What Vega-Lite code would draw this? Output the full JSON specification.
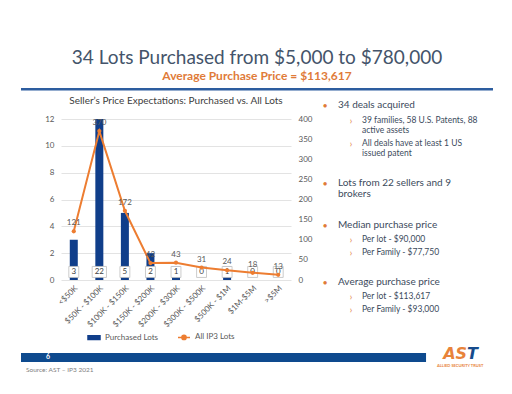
{
  "$schema": "https://vega.github.io/schema/vega-lite/v6.json",
  "padding": {"left": 20, "right": 20, "top": 49, "bottom": 0},
  "background": "white",
  "config": {"font": "Lato", "view": {"stroke": null}},
  "title": {
    "text": "34 Lots Purchased from $5,000 to $780,000",
    "subtitle": "Average Purchase Price = $113,617",
    "anchor": "middle",
    "font": "Lato",
    "fontSize": 19,
    "fontWeight": "normal",
    "color": "#44546a",
    "subtitleFont": "Lato",
    "subtitleFontSize": 12,
    "subtitleFontWeight": "bold",
    "subtitleColor": "#e07b39",
    "subtitlePadding": 3,
    "offset": 6
  },
  "spacing": 3,
  "resolve": {"legend": {"color": "independent"}, "scale": {"color": "independent"}},
  "vconcat": [
    {
      "width": 432,
      "height": 5,
      "data": {"values": [{}]},
      "mark": {"type": "rect", "color": "#2d5d9f", "clip": false},
      "encoding": {
        "x": {"datum": -0.0926, "type": "quantitative", "scale": {"domain": [0, 1]}, "axis": null},
        "x2": {"datum": 1},
        "y": {"datum": 1, "type": "quantitative", "scale": {"domain": [0, 1]}, "axis": null},
        "y2": {"datum": 0.5}
      }
    },
    {
      "spacing": 8,
      "resolve": {"legend": {"color": "independent"}, "scale": {"color": "independent"}},
      "hconcat": [
        {
          "width": 230,
          "height": 161,
          "title": {
            "text": "Seller’s Price Expectations: Purchased vs. All Lots",
            "fontSize": 10,
            "fontWeight": "normal",
            "color": "#404040",
            "offset": 9
          },
          "data": {
            "values": [
              {"range": "<$50K", "purchased": 3, "all": 121},
              {"range": "$50K - $100K", "purchased": 22, "all": 370},
              {"range": "$100K - $150K", "purchased": 5, "all": 172},
              {"range": "$150K - $200K", "purchased": 2, "all": 42},
              {"range": "$200K - $300K", "purchased": 1, "all": 43},
              {"range": "$300K - $500K", "purchased": 0, "all": 31},
              {"range": "$500K - $1M", "purchased": 1, "all": 24},
              {"range": "$1M-$5M", "purchased": 0, "all": 18},
              {"range": ">$5M", "purchased": 0, "all": 13}
            ]
          },
          "encoding": {
            "x": {
              "field": "range",
              "type": "nominal",
              "sort": null,
              "scale": {"paddingInner": 0, "paddingOuter": 0},
              "axis": {
                "labelAngle": -45,
                "labelFontSize": 8,
                "labelColor": "#595959",
                "ticks": false,
                "domain": false,
                "title": null,
                "labelPadding": 4
              }
            }
          },
          "layer": [
            {
              "layer": [
                {
                  "mark": {"type": "bar", "width": 8, "clip": true, "color": "#103e8a"},
                  "encoding": {
                    "y": {
                      "field": "purchased",
                      "type": "quantitative",
                      "scale": {"domain": [0, 12], "nice": false},
                      "axis": {
                        "orient": "left",
                        "values": [0, 2, 4, 6, 8, 10, 12],
                        "grid": true,
                        "gridColor": "#e3e3e3",
                        "domain": false,
                        "ticks": false,
                        "labelFontSize": 8,
                        "labelColor": "#595959",
                        "labelPadding": 7,
                        "title": null,
                        "minExtent": 40
                      }
                    },
                    "color": {
                      "datum": "Purchased Lots",
                      "type": "nominal",
                      "scale": {"domain": ["Purchased Lots", "All IP3 Lots"], "range": ["#103e8a", "#ed7d31"]},
                      "legend": {
                        "orient": "none",
                        "legendX": 26,
                        "legendY": 211,
                        "direction": "horizontal",
                        "title": null,
                        "labelFontSize": 8,
                        "labelColor": "#595959",
                        "symbolSize": 144,
                        "columnPadding": 16,
                        "encode": {
                          "symbols": {
                            "update": {
                              "shape": {"signal": "datum.value === 'Purchased Lots' ? 'M-1,-0.3H1V0.3H-1Z' : 'M-1,0H1M0.35,0A0.35,0.35 0 1 1 -0.35,0A0.35,0.35 0 1 1 0.35,0'"},
                              "stroke": {"signal": "datum.value === 'Purchased Lots' ? 'transparent' : '#ed7d31'"},
                              "strokeWidth": {"value": 1.5},
                              "fill": {"signal": "datum.value === 'Purchased Lots' ? '#103e8a' : '#ed7d31'"}
                            }
                          }
                        }
                      }
                    }
                  }
                },
                {
                  "mark": {"type": "point", "filled": true, "fill": "white", "stroke": "#bfbfbf", "strokeWidth": 0.8, "opacity": 1, "size": 121},
                  "encoding": {
                    "y": {
                      "datum": 0.6,
                      "type": "quantitative",
                      "axis": {
                        "orient": "left",
                        "values": [0, 2, 4, 6, 8, 10, 12],
                        "grid": true,
                        "gridColor": "#e3e3e3",
                        "domain": false,
                        "ticks": false,
                        "labelFontSize": 8,
                        "labelColor": "#595959",
                        "labelPadding": 7,
                        "title": null,
                        "minExtent": 40
                      }
                    },
                    "shape": {
                      "condition": {"test": "datum.purchased >= 10", "value": "M-1.3,-1H1.3V1H-1.3Z"},
                      "value": "M-0.9,-1H0.9V1H-0.9Z"
                    }
                  }
                },
                {
                  "mark": {"type": "text", "fontSize": 8, "color": "#404040"},
                  "encoding": {
                    "y": {
                      "datum": 0.6,
                      "type": "quantitative",
                      "axis": {
                        "orient": "left",
                        "values": [0, 2, 4, 6, 8, 10, 12],
                        "grid": true,
                        "gridColor": "#e3e3e3",
                        "domain": false,
                        "ticks": false,
                        "labelFontSize": 8,
                        "labelColor": "#595959",
                        "labelPadding": 7,
                        "title": null,
                        "minExtent": 40
                      }
                    },
                    "text": {"field": "purchased"}
                  }
                }
              ]
            },
            {
              "encoding": {
                "y": {
                  "field": "all",
                  "type": "quantitative",
                  "scale": {"domain": [0, 400], "nice": false},
                  "axis": {
                    "orient": "right",
                    "values": [0, 50, 100, 150, 200, 250, 300, 350, 400],
                    "grid": false,
                    "domain": false,
                    "ticks": false,
                    "labelFontSize": 8,
                    "labelColor": "#595959",
                    "labelPadding": 7,
                    "title": null
                  }
                }
              },
              "layer": [
                {
                  "mark": {"type": "line", "strokeWidth": 2},
                  "encoding": {"color": {"datum": "All IP3 Lots", "type": "nominal"}}
                },
                {
                  "mark": {"type": "point", "filled": true, "size": 18, "color": "#ed7d31", "opacity": 1}
                },
                {
                  "mark": {"type": "text", "dy": -8, "fontSize": 8, "color": "#595959"},
                  "encoding": {"text": {"field": "all"}}
                }
              ]
            }
          ],
          "resolve": {"scale": {"y": "independent"}}
        },
        {
          "width": 172,
          "height": 200,
          "data": {
            "values": [
              {"text": "34 deals acquired", "level": 1, "line": 0},
              {"text": "39 families, 58 U.S. Patents, 88\nactive assets", "level": 2, "line": 1.1},
              {"text": "All deals have at least 1 US\nissued patent", "level": 2, "line": 2.8},
              {"text": "Lots from 22 sellers and 9\nbrokers", "level": 1, "line": 5.77},
              {"text": "Median purchase price", "level": 1, "line": 8.87},
              {"text": "Per lot - $90,000", "level": 2, "line": 9.9},
              {"text": "Per Family - $77,750", "level": 2, "line": 10.87},
              {"text": "Average purchase price", "level": 1, "line": 13.08},
              {"text": "Per lot - $113,617", "level": 2, "line": 14.1},
              {"text": "Per Family - $93,000", "level": 2, "line": 15.08}
            ]
          },
          "encoding": {
            "x": {"field": "level", "type": "quantitative", "scale": {"domain": [0.808, 7.423]}, "axis": null},
            "y": {"field": "line", "type": "quantitative", "scale": {"domain": [0.96, 15.74], "reverse": true}, "axis": null}
          },
          "layer": [
            {
              "mark": {"type": "text", "align": "center", "baseline": "middle", "fontSize": 9, "color": "#e07b39"},
              "encoding": {
                "text": {"condition": {"test": "datum.level == 1", "value": "•"}, "value": "›"}
              }
            },
            {
              "transform": [{"filter": "datum.level == 1"}],
              "mark": {"type": "text", "align": "left", "baseline": "top", "dx": 13, "dy": -6, "fontSize": 10, "color": "#3b4a5c", "lineBreak": "\n", "lineHeight": 11},
              "encoding": {"text": {"field": "text"}}
            },
            {
              "transform": [{"filter": "datum.level == 2"}],
              "mark": {"type": "text", "align": "left", "baseline": "top", "dx": 11, "dy": -5, "fontSize": 8.5, "color": "#3b4a5c", "lineBreak": "\n", "lineHeight": 10},
              "encoding": {"text": {"field": "text"}}
            }
          ]
        }
      ]
    },
    {
      "width": 432,
      "height": 28,
      "data": {"values": [{}]},
      "layer": [
        {
          "mark": {"type": "rect", "color": "#0e4a8e", "clip": false},
          "encoding": {
            "x": {"datum": -0.0926, "type": "quantitative", "scale": {"domain": [0, 1]}, "axis": null},
            "x2": {"datum": 0.845},
            "y": {"datum": 0.821, "type": "quantitative", "scale": {"domain": [0, 1]}, "axis": null},
            "y2": {"datum": 0.5}
          }
        },
        {
          "mark": {"type": "text", "text": "6", "color": "white", "fontWeight": "bold", "fontSize": 7, "baseline": "middle"},
          "encoding": {
            "x": {"datum": -0.03, "type": "quantitative", "scale": {"domain": [0, 1]}, "axis": null},
            "y": {"datum": 0.661, "type": "quantitative", "scale": {"domain": [0, 1]}, "axis": null}
          }
        },
        {
          "mark": {"type": "text", "text": "Source: AST – IP3 2021", "align": "left", "baseline": "middle", "color": "#808080", "fontSize": 6.5},
          "encoding": {
            "x": {"datum": -0.081, "type": "quantitative", "scale": {"domain": [0, 1]}, "axis": null},
            "y": {"datum": 0.214, "type": "quantitative", "scale": {"domain": [0, 1]}, "axis": null}
          }
        },
        {
          "mark": {"type": "text", "text": "AS", "align": "right", "baseline": "alphabetic", "color": "#e8833a", "font": "DejaVu Sans", "fontWeight": "bold", "fontStyle": "italic", "fontSize": 16},
          "encoding": {
            "x": {"datum": 0.94, "type": "quantitative", "scale": {"domain": [0, 1]}, "axis": null},
            "y": {"datum": 0.607, "type": "quantitative", "scale": {"domain": [0, 1]}, "axis": null}
          }
        },
        {
          "mark": {"type": "text", "text": "T", "align": "left", "baseline": "alphabetic", "color": "#164b8c", "font": "DejaVu Sans", "fontWeight": "bold", "fontStyle": "italic", "fontSize": 16},
          "encoding": {
            "x": {"datum": 0.94, "type": "quantitative", "scale": {"domain": [0, 1]}, "axis": null},
            "y": {"datum": 0.607, "type": "quantitative", "scale": {"domain": [0, 1]}, "axis": null}
          }
        },
        {
          "mark": {"type": "text", "text": "ALLIED SECURITY TRUST", "align": "center", "baseline": "middle", "color": "#e8833a", "fontWeight": "bold", "fontSize": 4},
          "encoding": {
            "x": {"datum": 0.924, "type": "quantitative", "scale": {"domain": [0, 1]}, "axis": null},
            "y": {"datum": 0.35, "type": "quantitative", "scale": {"domain": [0, 1]}, "axis": null}
          }
        }
      ]
    }
  ]
}
